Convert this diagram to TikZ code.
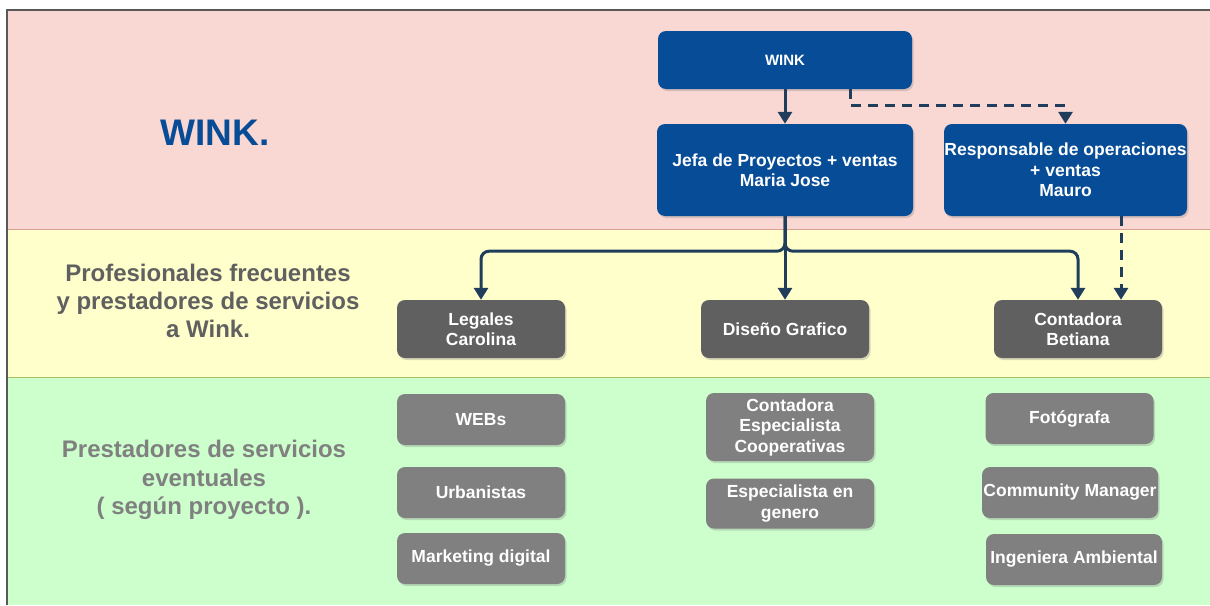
\documentclass[tikz,border=0pt]{standalone}
\usepackage{fontspec}
\setmainfont{Liberation Sans}
\usetikzlibrary{arrows.meta,shadows}

\definecolor{rosa}{RGB}{249,215,211}
\definecolor{amarillo}{RGB}{255,255,204}
\definecolor{verde}{RGB}{204,255,204}
\definecolor{bordeRosa}{RGB}{214,160,150}
\definecolor{bordeVerde}{RGB}{170,190,100}
\definecolor{azulwink}{RGB}{6,76,150}
\definecolor{grisfijo}{RGB}{96,96,96}
\definecolor{griseventual}{RGB}{128,128,128}
\definecolor{lineas}{RGB}{32,62,92}

\tikzset{
  caja/.style={rounded corners=8pt, text=white, align=center, inner sep=0pt,
    font=\bfseries\fontsize{17.5}{20.5}\selectfont,
    drop shadow={shadow xshift=1.5pt, shadow yshift=-2pt, opacity=0.3}},
  azul/.style={caja, fill=azulwink},
  fija/.style={caja, fill=grisfijo, minimum width=168, minimum height=58},
  eventual/.style={caja, fill=griseventual, minimum height=51},
  flecha/.style={line width=3pt, draw=lineas, -{Triangle[width=14pt,length=12pt]}},
  punteada/.style={flecha, dash pattern=on 10pt off 7pt},
}

\begin{document}
\begin{tikzpicture}[x=1pt, y=-1pt]
\useasboundingbox (0,0) rectangle (1210,605);

%Fondo
\fill[white] (0,0) rectangle (1210,605);
\fill[rosa] (7,10) rectangle (1210,229);
\fill[amarillo] (7,229) rectangle (1210,377);
\fill[verde] (7,377) rectangle (1210,605);
\draw[bordeRosa, line width=1pt] (7,229) -- (1210,229);
\draw[bordeVerde, line width=1pt] (7,377) -- (1210,377);
\draw[gray!70!black, line width=1.8pt] (7,605) -- (7,10) -- (1210,10);

%Titulos
\node[text=azulwink, font=\bfseries\fontsize{37}{40}\selectfont] (titulo) at (215,133) {WINK.};
\node[text=grisfijo, align=center, font=\bfseries\fontsize{24}{28}\selectfont]
  (frecuentes) at (208,301) {Profesionales frecuentes\\y prestadores de servicios\\a Wink.};
\node[text=griseventual, align=center, font=\bfseries\fontsize{24}{28.5}\selectfont]
  (eventuales) at (204,480) {Prestadores de servicios\\eventuales\\( según proyecto ).};

%Direccion
\node[azul, minimum width=254, minimum height=58, font=\bfseries\fontsize{15}{17}\selectfont]
  (wink) at (785,60) {WINK};
\node[azul, minimum width=256, minimum height=92] (jefa) at (785,170)
  {Jefa de Proyectos + ventas\\Maria Jose};
\node[azul, minimum width=243, minimum height=92] (resp) at (1065.5,170)
  {Responsable de operaciones\\+ ventas\\Mauro};

%Profesionales frecuentes
\node[fija] (legales) at (481,329) {Legales\\Carolina};
\node[fija] (diseno) at (785,329) {Diseño Grafico};
\node[fija] (contadora) at (1078,329) {Contadora\\Betiana};

%Prestadores eventuales
\foreach \n/\x/\y/\w/\t in {webs/481/419.5/168/WEBs,
    urbanistas/481/492.5/168/Urbanistas,
    marketing/481/558.5/168/Marketing digital,
    fotografa/1069.5/418.5/168/Fotógrafa,
    community/1070/492.5/176/Community Manager,
    ingeniera/1074/559.5/176/Ingeniera Ambiental}
  \node[eventual, minimum width=\w] (\n) at (\x,\y) {\t};
\node[eventual, minimum width=168, minimum height=68] (cooperativas) at (790,427)
  {Contadora\\Especialista\\Cooperativas};
\node[eventual, minimum width=168, minimum height=50] (genero) at (790,503.5)
  {Especialista en\\genero};

%Flechas
\draw[flecha] (wink) -- (jefa);
\draw[punteada] ([xshift=65pt]wink.south) -- ++(0,16) -| (resp.north);
\draw[flecha, rounded corners=8pt] (jefa.south) -- ++(0,35) -| (legales.north);
\draw[flecha, rounded corners=8pt] (jefa.south) -- ++(0,35) -| (contadora.north);
\draw[flecha] (jefa.south) -- (diseno.north);
\draw[punteada] ([xshift=55.5pt]resp.south) -- ([xshift=43pt]contadora.north);

\end{tikzpicture}
\end{document}
